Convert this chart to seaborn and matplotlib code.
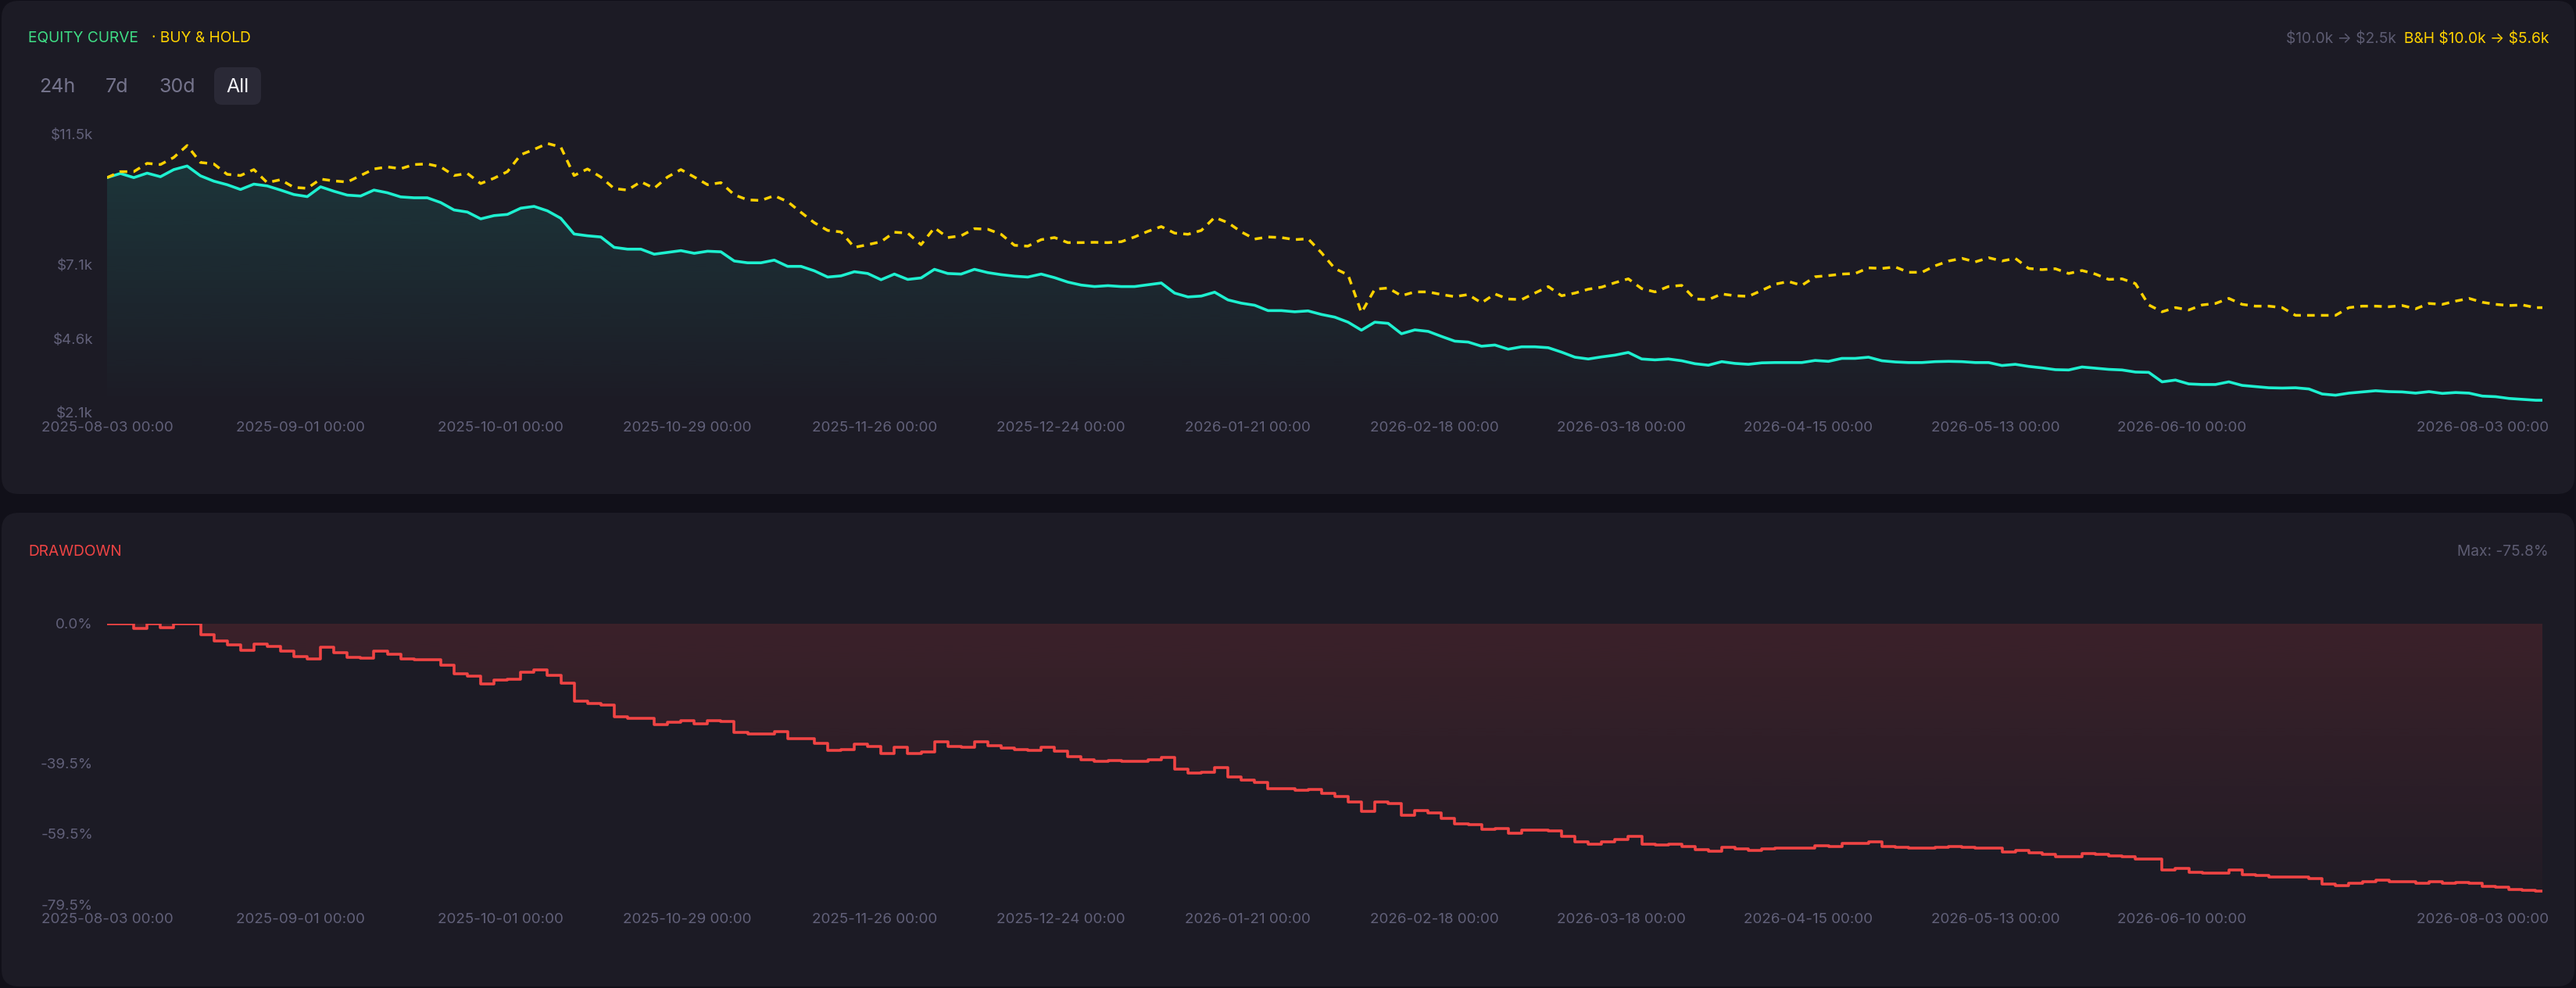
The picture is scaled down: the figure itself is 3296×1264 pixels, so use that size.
import numpy as np
import pandas as pd
import matplotlib
matplotlib.use("Agg")
import matplotlib.pyplot as plt
import matplotlib.dates as mdates
import seaborn as sns
from matplotlib.patches import FancyBboxPatch
from matplotlib.transforms import IdentityTransform, ScaledTranslation
from matplotlib.colors import to_rgb

# ---- data (values in $k, one point every 2 days) ----
start_date = "2025-08-03"
last_regular_date = "2026-08-02"
end_date = "2026-08-03"

equity_k = [
    10.02, 10.16, 10.02, 10.17, 10.05, 10.29, 10.41, 10.08, 9.90, 9.78,
    9.62, 9.80, 9.74, 9.60, 9.45, 9.38, 9.71, 9.56, 9.43, 9.40,
    9.60, 9.51, 9.37, 9.34, 9.34, 9.18, 8.93, 8.86, 8.63, 8.74,
    8.78, 8.99, 9.05, 8.90, 8.65, 8.12, 8.06, 8.02, 7.67, 7.61,
    7.61, 7.44, 7.50, 7.56, 7.47, 7.54, 7.52, 7.21, 7.15, 7.15,
    7.24, 7.03, 7.03, 6.88, 6.67, 6.71, 6.85, 6.79, 6.58, 6.77,
    6.59, 6.64, 6.93, 6.79, 6.77, 6.93, 6.82, 6.75, 6.70, 6.67,
    6.77, 6.65, 6.50, 6.40, 6.35, 6.38, 6.35, 6.35, 6.41, 6.47,
    6.13, 6.00, 6.03, 6.16, 5.90, 5.79, 5.72, 5.54, 5.54, 5.50,
    5.53, 5.41, 5.32, 5.15, 4.88, 5.15, 5.11, 4.76, 4.89, 4.84,
    4.67, 4.51, 4.48, 4.34, 4.38, 4.24, 4.32, 4.32, 4.29, 4.14,
    3.97, 3.91, 3.98, 4.04, 4.13, 3.91, 3.88, 3.91, 3.85, 3.75,
    3.70, 3.82, 3.76, 3.73, 3.78, 3.79, 3.79, 3.79, 3.86, 3.83,
    3.93, 3.93, 3.97, 3.85, 3.81, 3.79, 3.79, 3.82, 3.83, 3.82,
    3.79, 3.79, 3.69, 3.73, 3.66, 3.61, 3.55, 3.54, 3.64, 3.60,
    3.56, 3.54, 3.47, 3.46, 3.14, 3.20, 3.07, 3.05, 3.05, 3.14,
    3.02, 2.98, 2.94, 2.93, 2.94, 2.90, 2.73, 2.69, 2.76, 2.80,
    2.84, 2.81, 2.80, 2.76, 2.81, 2.75, 2.78, 2.76, 2.66, 2.64,
    2.58, 2.55, 2.52, 2.52,
]

buy_hold_k = [
    10.02, 10.22, 10.22, 10.50, 10.46, 10.70, 11.10, 10.53, 10.48, 10.13,
    10.09, 10.29, 9.85, 9.95, 9.69, 9.66, 9.97, 9.91, 9.87, 10.09,
    10.31, 10.38, 10.32, 10.46, 10.48, 10.38, 10.09, 10.16, 9.82, 10.00,
    10.22, 10.79, 10.97, 11.17, 11.05, 10.09, 10.31, 10.04, 9.65, 9.60,
    9.88, 9.66, 10.04, 10.29, 10.04, 9.78, 9.85, 9.44, 9.27, 9.25,
    9.41, 9.21, 8.85, 8.50, 8.24, 8.19, 7.67, 7.76, 7.86, 8.18,
    8.15, 7.76, 8.33, 8.00, 8.06, 8.30, 8.28, 8.11, 7.74, 7.71,
    7.93, 8.00, 7.83, 7.83, 7.84, 7.83, 7.86, 8.02, 8.21, 8.37,
    8.15, 8.11, 8.24, 8.68, 8.50, 8.19, 7.95, 8.02, 8.00, 7.93,
    7.96, 7.49, 6.96, 6.74, 5.47, 6.26, 6.30, 6.04, 6.17, 6.17,
    6.08, 6.01, 6.08, 5.80, 6.10, 5.93, 5.91, 6.13, 6.35, 6.04,
    6.13, 6.26, 6.33, 6.48, 6.61, 6.28, 6.17, 6.35, 6.39, 5.93,
    5.91, 6.10, 6.04, 6.02, 6.22, 6.43, 6.52, 6.39, 6.68, 6.72,
    6.77, 6.79, 6.98, 6.96, 7.01, 6.83, 6.83, 7.05, 7.21, 7.30,
    7.18, 7.32, 7.21, 7.30, 6.96, 6.92, 6.95, 6.79, 6.89, 6.77,
    6.59, 6.61, 6.45, 5.73, 5.50, 5.64, 5.56, 5.73, 5.78, 5.95,
    5.75, 5.69, 5.69, 5.64, 5.38, 5.38, 5.38, 5.38, 5.64, 5.69,
    5.69, 5.67, 5.71, 5.60, 5.78, 5.75, 5.86, 5.95, 5.82, 5.75,
    5.71, 5.73, 5.64, 5.64,
]

equity_ticks = [2.1, 4.6, 7.1, 11.5]
drawdown_ticks = [0.0, -39.5, -59.5, -79.5]
x_tick_dates = ["2025-08-03", "2025-09-01", "2025-10-01", "2025-10-29",
                "2025-11-26", "2025-12-24", "2026-01-21", "2026-02-18",
                "2026-03-18", "2026-04-15", "2026-05-13", "2026-06-10",
                "2026-08-03"]
range_buttons = ["24h", "7d", "30d", "All"]

dates = list(pd.date_range(start_date, last_regular_date, freq="2D")) + [pd.Timestamp(end_date)]
assert len(dates) == len(equity_k) == len(buy_hold_k)

df = pd.DataFrame({"date": dates, "equity": equity_k, "bh": buy_hold_k})
df["dd"] = (df["equity"] / df["equity"].cummax() - 1) * 100

# ---- colours ----
OUTER = "#111019"
CARD = "#1c1b25"
TICK = "#62617a"
CYAN = "#1ef0d0"
YELLOW = "#ffd200"
GREEN = "#3fdd85"
RED = "#f04444"

sns.set_theme(style="dark", rc={"axes.facecolor": CARD, "figure.facecolor": OUTER})
plt.rcParams["font.family"] = ["Inter", "DejaVu Sans"]

W, H = 3296, 1264
fig = plt.figure(figsize=(W / 100, H / 100), dpi=100)
fig.patch.set_facecolor(OUTER)


def px_box(x0, y0, x1, y1):
    return [x0 / W, 1 - y1 / H, (x1 - x0) / W, (y1 - y0) / H]


def ftext(x, y, s, **kw):
    fig.text(x / W, 1 - y / H, s, **kw)


def card(x0, y0, x1, y1, color, r):
    fig.add_artist(FancyBboxPatch((x0, H - y1), x1 - x0, y1 - y0,
                                  boxstyle=f"round,pad=0,rounding_size={r}",
                                  transform=IdentityTransform(), facecolor=color,
                                  edgecolor="none", zorder=-10))


card(2, 1, 3294, 632, CARD, 22)
card(2, 656, 3294, 1262, CARD, 22)

ax1 = fig.add_axes(px_box(137, 171, 3253, 528))
ax2 = fig.add_axes(px_box(137, 798, 3253, 1157))


def gradient_fill(ax, x, y, base, color, a_top, a_bot, ylim, step=None):
    poly = ax.fill_between(x, y, base, step=step, facecolor="none", edgecolor="none")
    grad = np.zeros((256, 1, 4))
    grad[:, 0, :3] = to_rgb(color)
    grad[:, 0, 3] = np.linspace(a_top, a_bot, 256)
    xn = mdates.date2num([x[0], x[-1]])
    im = ax.imshow(grad, aspect="auto", origin="upper", interpolation="bilinear",
                   extent=[xn[0], xn[1], ylim[0], ylim[1]], zorder=1)
    im.set_clip_path(poly.get_paths()[0], ax.transData)


# equity panel
eq_lim = (equity_ticks[0], equity_ticks[-1])
gradient_fill(ax1, df["date"].tolist(), df["equity"].values, eq_lim[0], CYAN, 0.14, 0.0, eq_lim)
sns.lineplot(data=df, x="date", y="equity", ax=ax1, color=CYAN, linewidth=2.6,
             estimator=None, zorder=3, solid_joinstyle="round")
sns.lineplot(data=df, x="date", y="bh", ax=ax1, color=YELLOW, linewidth=2.5,
             linestyle=(0, (2.8, 2.3)), estimator=None, zorder=4)
ax1.set_ylim(*eq_lim)
ax1.set_yticks(equity_ticks)
ax1.set_yticklabels([f"${v:.1f}k" for v in equity_ticks])

# drawdown panel
dd_lim = (drawdown_ticks[-1], drawdown_ticks[0])
gradient_fill(ax2, df["date"].tolist(), df["dd"].values, 0, RED, 0.15, 0.02, dd_lim, step="post")
sns.lineplot(data=df, x="date", y="dd", ax=ax2, color=RED, linewidth=2.6,
             drawstyle="steps-post", estimator=None, zorder=3)
ax2.set_ylim(*dd_lim)
ax2.set_yticks(drawdown_ticks)
ax2.set_yticklabels([f"{v:.1f}%" for v in drawdown_ticks])

for ax in (ax1, ax2):
    ax.patch.set_alpha(0)
    for s in ax.spines.values():
        s.set_visible(False)
    ax.grid(False)
    ax.set_xlabel("")
    ax.set_ylabel("")
    ax.set_xlim(dates[0], dates[-1])
    ax.set_xticks(pd.to_datetime(x_tick_dates))
    ax.xaxis.set_major_formatter(mdates.DateFormatter("%Y-%m-%d %H:%M"))
    ax.tick_params(axis="x", length=0, colors=TICK, labelsize=13.5, pad=8)
    ax.tick_params(axis="y", length=0, colors=TICK, labelsize=13.5, pad=13)
    last = ax.get_xticklabels()[-1]
    last.set_horizontalalignment("right")
    last.set_transform(last.get_transform() + ScaledTranslation(8 / 100, 0, fig.dpi_scale_trans))

# header texts
ftext(36, 54, "EQUITY CURVE", color=GREEN, fontsize=13.8, va="baseline")
ftext(194, 54, "· BUY & HOLD", color=YELLOW, fontsize=13.8, va="baseline")
ftext(3066, 55, r"\$10.0k → \$2.5k", color="#5d5c72", fontsize=13.8, ha="right", va="baseline")
ftext(3261, 55, r"B&H \$10.0k → \$5.6k", color=YELLOW, fontsize=13.8, ha="right", va="baseline")
ftext(36, 711, "DRAWDOWN", color=RED, fontsize=13.8, va="baseline")
ftext(3261, 711, "Max: -75.8%", color="#5d5c72", fontsize=13.8, ha="right", va="baseline")

# range selector
fig.add_artist(FancyBboxPatch((274, H - 134), 60, 48, boxstyle="round,pad=0,rounding_size=10",
                              transform=IdentityTransform(), facecolor="#2a2936",
                              edgecolor="none", zorder=-5))
for label, cx in zip(range_buttons, [73.5, 149, 226.5, 304]):
    ftext(cx, 118, label, color="#f0f0f5" if label == "All" else "#75748c",
          fontsize=18, ha="center", va="baseline")

fig.savefig("out.png", dpi=100, facecolor=OUTER)
